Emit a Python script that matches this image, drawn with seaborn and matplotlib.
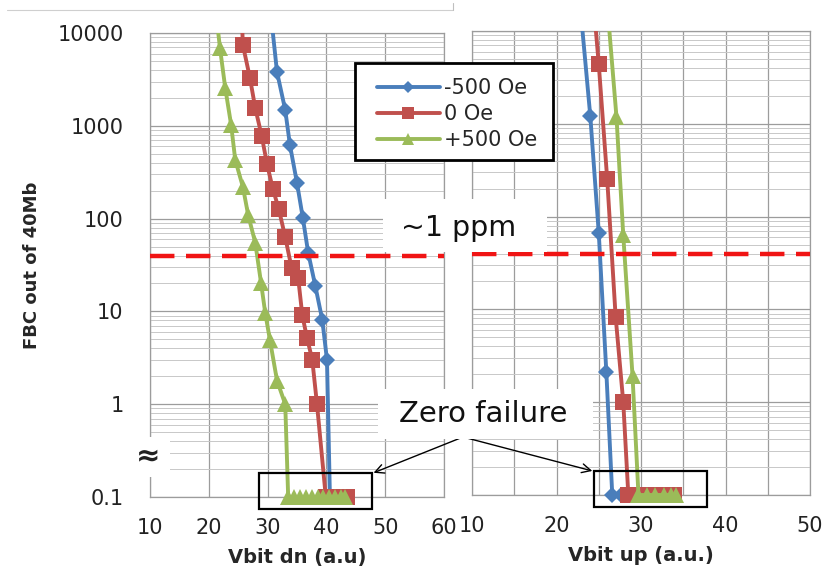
import numpy as np
import pandas as pd
import matplotlib
matplotlib.use("Agg")
import matplotlib.pyplot as plt
import seaborn as sns
from matplotlib.ticker import FixedLocator, FixedFormatter, LogLocator, NullFormatter, MultipleLocator
from matplotlib.patches import Rectangle
from matplotlib.lines import Line2D
from matplotlib.transforms import Bbox, TransformedBbox

# ---------------- data ----------------
series_labels = ["-500 Oe", "0 Oe", "+500 Oe"]
series_colors = ["#4a7ebb", "#c0504d", "#9bbb59"]
series_markers = ["D", "s", "^"]

# Left panel : Vbit dn  (FBC = 0 plotted at 0.1)
dn_neg_x = [30.6, 31.6, 33.0, 33.8, 35.0, 36.0, 36.9, 38.1, 39.3, 40.1, 40.6, 41.5, 42.4, 43.2]
dn_neg_y = [15000, 3800, 1480, 620, 242, 101, 43, 19, 8.1, 3.0, 0.1, 0.1, 0.1, 0.1]
dn_zero_x = [25.6, 25.8, 27.0, 27.9, 29.0, 29.9, 30.9, 31.9, 33.0, 34.1, 35.2, 35.9, 36.7, 37.6,
             38.4, 39.9, 40.8, 41.7, 42.6, 43.5]
dn_zero_y = [15000, 7400, 3270, 1555, 776, 387, 208, 127, 63, 29, 23, 9.1, 5.2, 3.0,
             1.0, 0.1, 0.1, 0.1, 0.1, 0.1]
dn_pos_x = [21.3, 21.9, 22.8, 23.8, 24.5, 25.8, 26.7, 27.9, 28.9, 29.6, 30.4, 31.6, 33.0,
            33.5, 34.5, 35.5, 36.5, 37.5, 38.5, 39.5, 40.5, 41.5, 42.5, 43.1]
dn_pos_y = [15000, 6900, 2550, 1020, 428, 219, 109, 55, 20, 9.6, 4.9, 1.8, 1.0,
            0.1, 0.1, 0.1, 0.1, 0.1, 0.1, 0.1, 0.1, 0.1, 0.1, 0.1]

# Right panel : Vbit up
up_neg_x = [22.9, 24.0, 25.0, 25.9, 26.6, 27.6, 28.6, 29.6, 30.6, 31.6, 32.6, 33.6]
up_neg_y = [15000, 1210, 67, 2.1, 0.1, 0.1, 0.1, 0.1, 0.1, 0.1, 0.1, 0.1]
up_zero_x = [24.5, 25.0, 26.0, 27.0, 27.9, 28.5, 29.5, 30.5, 31.5, 32.5, 33.9]
up_zero_y = [15000, 4400, 254, 8.3, 1.0, 0.1, 0.1, 0.1, 0.1, 0.1, 0.1]
up_pos_x = [26.1, 27.1, 27.9, 29.0, 29.7, 30.7, 31.7, 32.7, 33.5, 34.1]
up_pos_y = [15000, 1180, 63, 1.9, 0.1, 0.1, 0.1, 0.1, 0.1, 0.1]

ppm_level = 40          # 1 ppm of 40 Mb
y_ticks = [0.1, 1, 10, 100, 1000, 10000]
y_ticklabels = ["0.1", "1", "10", "100", "1000", "10000"]
dn_xticks = [10, 20, 30, 40, 50, 60]
up_xticks = [10, 20, 30, 40, 50]

left_series = [(dn_neg_x, dn_neg_y), (dn_zero_x, dn_zero_y), (dn_pos_x, dn_pos_y)]
right_series = [(up_neg_x, up_neg_y), (up_zero_x, up_zero_y), (up_pos_x, up_pos_y)]

# ---------------- figure ----------------
sns.set_style("white")
plt.rcParams["font.family"] = ["DejaVu Sans"]

W, H = 825, 573
fig = plt.figure(figsize=(W / 100, H / 100), dpi=100)
fig.patch.set_facecolor("white")


def fx(px):
    return px / W


def fy(py):
    return 1 - py / H


axL = fig.add_axes([fx(150), fy(497), (444 - 150) / W, (497 - 33) / H], zorder=2)
axR = fig.add_axes([fx(472), fy(495), (810 - 472) / W, (495 - 31) / H], zorder=1)

major_c = "#9c9c9c"
minor_c = "#c8c8c8"
marker_sizes = {"D": 8.5, "s": 12, "^": 11.5}

for ax, series in ((axL, left_series), (axR, right_series)):
    for (xs, ys), lab, col, mk in zip(series, series_labels, series_colors, series_markers):
        df = pd.DataFrame({"Vbit": xs, "FBC": ys})
        sns.lineplot(data=df, x="Vbit", y="FBC", ax=ax, color=col, marker=mk,
                     markersize=marker_sizes[mk], markeredgewidth=0, markeredgecolor=col,
                     linewidth=2.8, sort=False, estimator=None, legend=False, zorder=3)
    clip = TransformedBbox(Bbox([[0, -0.09], [1, 1]]), ax.transAxes)
    for ln in ax.lines:
        ln.set_clip_box(clip)
    ax.axhline(ppm_level, color="#f01414", lw=3.2, dashes=(5.5, 2.6), zorder=4)

    ax.set_yscale("log")
    ax.set_ylim(0.1, 10000)
    ax.yaxis.set_major_locator(FixedLocator(y_ticks))
    ax.yaxis.set_minor_locator(LogLocator(base=10, subs=np.arange(2, 10), numticks=20))
    ax.yaxis.set_minor_formatter(NullFormatter())
    ax.grid(which="major", axis="both", color=major_c, lw=0.9, zorder=0)
    ax.grid(which="minor", axis="y", color=minor_c, lw=0.7, zorder=0)
    ax.set_axisbelow(True)
    for sp in ax.spines.values():
        sp.set_color(major_c)
        sp.set_linewidth(0.9)
    ax.tick_params(which="minor", length=0)
    ax.tick_params(axis="x", which="major", length=0, pad=15, labelsize=15, colors="#222222")
    ax.set_xlabel("")
    ax.set_ylabel("")

# left axis
axL.set_xlim(10, 60)
axL.set_xticks(dn_xticks)
axL.set_xticklabels([str(v) for v in dn_xticks])
axL.yaxis.set_major_formatter(FixedFormatter(y_ticklabels))
axL.tick_params(axis="y", which="major", length=6, width=0.9, color=major_c, pad=13,
                labelsize=15, labelcolor="#222222")
axL.set_xlabel("Vbit dn (a.u)", fontsize=14, fontweight="bold", labelpad=7)
axL.set_ylabel("FBC out of 40Mb", fontsize=13, fontweight="bold", labelpad=12)
for t in axL.get_xticklabels():
    t.set_bbox(dict(facecolor="white", edgecolor="none", pad=1.5))

# right axis
axR.set_xlim(10, 50)
axR.set_xticks(up_xticks)
axR.set_xticklabels([str(v) for v in up_xticks])
axR.xaxis.set_minor_locator(MultipleLocator(5))
axR.grid(which="minor", axis="x", color=major_c, lw=0.9)
axR.tick_params(axis="y", which="both", length=0, labelleft=False)
axR.set_xlabel("Vbit up (a.u.)", fontsize=14, fontweight="bold", labelpad=7)

# zero-failure boxes (data coords)
for ax, x0, x1 in ((axL, 28.5, 47.8), (axR, 24.4, 37.8)):
    ax.add_patch(Rectangle((x0, 0.074), x1 - x0, 0.18 - 0.074, fill=False,
                           edgecolor="black", lw=1.6, clip_on=False, zorder=6))

# white backgrounds for annotation texts
for (x0, y0, x1, y1) in ((383, 199, 547, 252), (378, 389, 593, 439), (133, 437, 170, 477)):
    fig.add_artist(Rectangle((fx(x0), fy(y1)), (x1 - x0) / W, (y1 - y0) / H,
                             transform=fig.transFigure, facecolor="white",
                             edgecolor="none", zorder=3))

fig.text(fx(459), fy(228), "~1 ppm", fontsize=20.5, ha="center", va="center", zorder=4,
         color="#111111")
fig.text(fx(483), fy(414), "Zero failure", fontsize=21, ha="center", va="center", zorder=4,
         color="#111111")
fig.text(fx(148), fy(456), "≈", fontsize=21, fontweight="bold", ha="center", va="center",
         zorder=4, color="#222222")

for ax, xy in ((axL, (47.8, 0.18)), (axR, (24.4, 0.18))):
    ax.annotate("", xy=xy, xycoords="data", xytext=(fx(463), fy(437)),
                textcoords="figure fraction",
                arrowprops=dict(arrowstyle="->", lw=1.0, color="black", shrinkA=0,
                                shrinkB=1, mutation_scale=16), zorder=7)

# legend: separate frame + frameless legend for exact placement
fig.add_artist(Rectangle((fx(355), fy(160)), (553 - 355) / W, (160 - 63) / H,
                         transform=fig.transFigure, facecolor="white", edgecolor="black",
                         lw=2.0, zorder=7))
leg_sizes = {"D": 6, "s": 8.5, "^": 8.5}
handles = [Line2D([], [], color=c, marker=m, markersize=leg_sizes[m], markeredgewidth=0,
                  lw=2.8) for c, m in zip(series_colors, series_markers)]
leg = fig.legend(handles, series_labels, loc="upper left", bbox_to_anchor=(fx(377), fy(78)),
                 frameon=False, fontsize=15, handlelength=3.0, handletextpad=0.2,
                 borderpad=0, labelspacing=0.3, borderaxespad=0)
leg.set_zorder(8)

# thin frame artefact at the top
fig.add_artist(Line2D([fx(7), fx(453)], [fy(10), fy(10)], transform=fig.transFigure,
                      color="#cfcfcf", lw=0.8))
fig.add_artist(Line2D([fx(453), fx(453)], [fy(3), fy(10)], transform=fig.transFigure,
                      color="#bfbfbf", lw=0.8))

fig.savefig("out.png", dpi=100, facecolor="white")
